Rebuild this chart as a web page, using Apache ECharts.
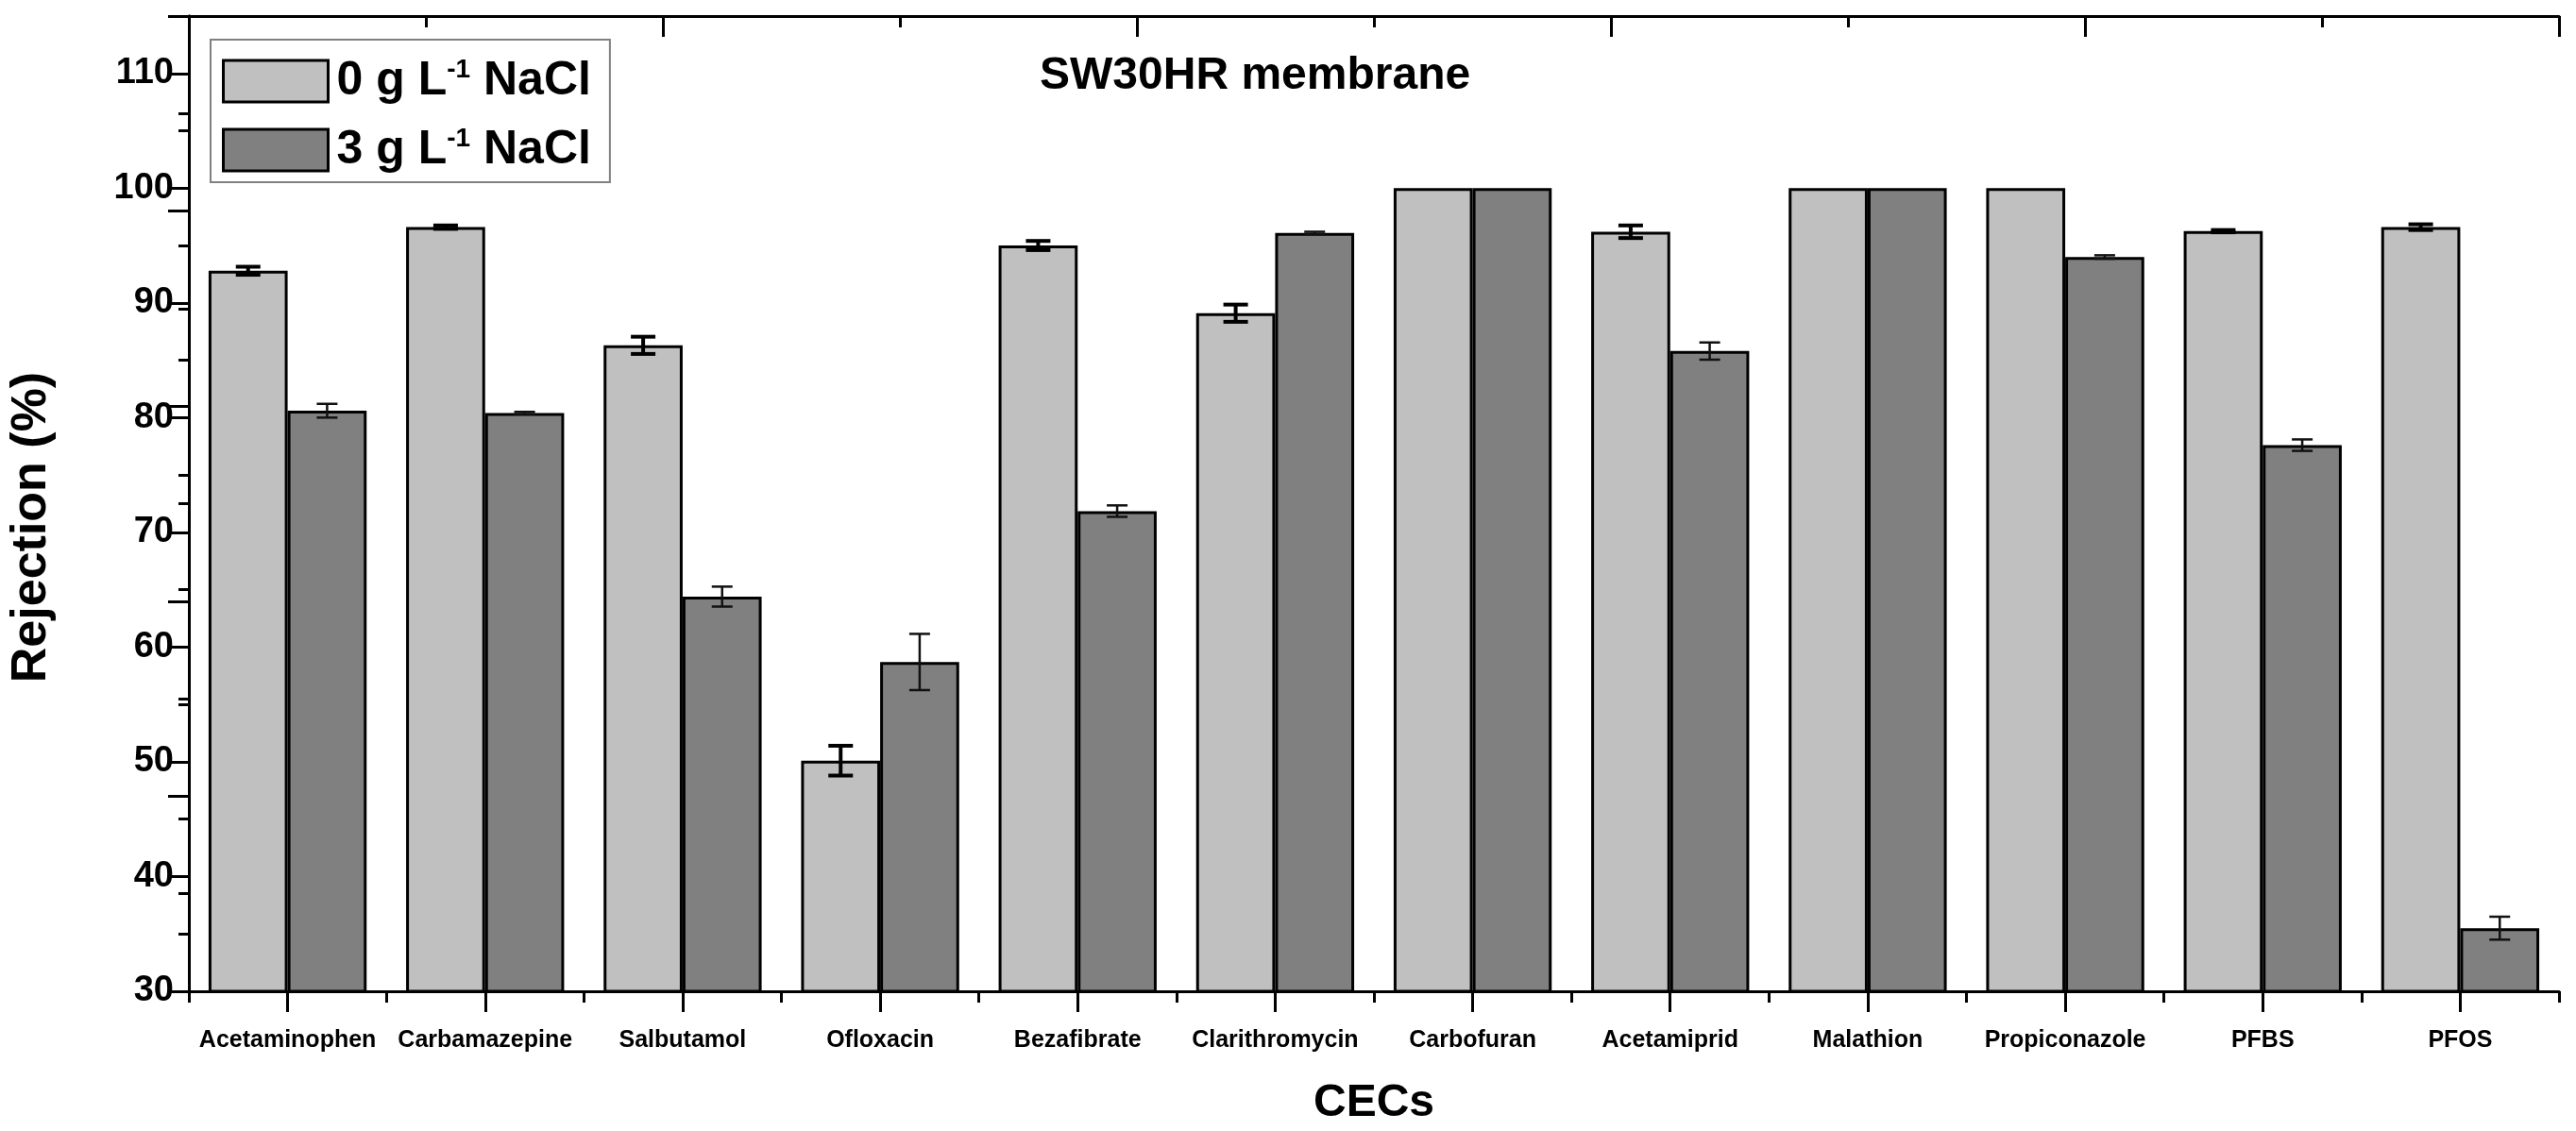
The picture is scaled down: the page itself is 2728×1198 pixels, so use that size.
<!DOCTYPE html>
<html>
<head>
<meta charset="utf-8">
<script src="https://cdn.jsdelivr.net/npm/echarts@6/dist/echarts.min.js"></script>
<style>
html,body{margin:0;padding:0;background:#fff;}
#c{width:2728px;height:1198px;}
</style>
</head>
<body>
<div id="c"></div>
<script>
const categories = ['Acetaminophen','Carbamazepine','Salbutamol','Ofloxacin','Bezafibrate','Clarithromycin','Carbofuran','Acetamiprid','Malathion','Propiconazole','PFBS','PFOS'];
const seriesNames = ['0 g L-1 NaCl','3 g L-1 NaCl'];
const rej0 = [92.8, 96.6, 86.3, 50.1, 95.0, 89.1, 100, 96.2, 100, 100, 96.25, 96.6];
const err0 = [0.35, 0.15, 0.75, 1.3, 0.4, 0.75, 0, 0.55, 0, 0, 0.1, 0.25];
const rej3 = [80.6, 80.4, 64.4, 58.7, 71.85, 96.1, 100, 85.8, 100, 94.0, 77.6, 35.5];
const err3 = [0.6, 0.1, 0.87, 2.45, 0.5, 0.1, 0, 0.75, 0, 0.15, 0.5, 1.0];
const yTicks = [30, 40, 50, 60, 70, 80, 90, 100, 110];

const FONT = '"Liberation Sans", Arial, sans-serif';
const chart = echarts.init(document.getElementById('c'));

function errSeries(vals, errs, side, lw, cap, color) {
  return {
    type: 'custom',
    xAxisIndex: 0, yAxisIndex: 0,
    z: 10,
    silent: true,
    data: vals.map((v, i) => [i, v, errs[i]]),
    renderItem: function (params, api) {
      const i = api.value(0), v = api.value(1), e = api.value(2);
      if (!e) return null;
      const band = api.size([1, 0])[0];
      const bw = band * 0.8 / 2;
      const base = api.coord([i, v]);
      const cx = base[0] + side * bw / 2;
      const yt = api.coord([i, v + e])[1];
      const yb = api.coord([i, v - e])[1];
      const st = { stroke: color, lineWidth: lw };
      return {
        type: 'group',
        children: [
          { type: 'line', shape: { x1: cx, y1: yt, x2: cx, y2: yb }, style: st },
          { type: 'line', shape: { x1: cx - cap / 2, y1: yt, x2: cx + cap / 2, y2: yt }, style: st },
          { type: 'line', shape: { x1: cx - cap / 2, y1: yb, x2: cx + cap / 2, y2: yb }, style: st }
        ]
      };
    }
  };
}

const legendRich = {
  a: { fontSize: 50, fontWeight: 'bold', fontFamily: FONT, color: '#000' },
  s: { fontSize: 28, fontWeight: 'bold', fontFamily: FONT, color: '#000', padding: [0, 0, 24, 0] }
};

chart.setOption({
  backgroundColor: '#fff',
  animation: false,
  title: {
    text: 'SW30HR membrane',
    left: 1096, top: 52,
    textStyle: { fontSize: 48, fontWeight: 'bold', fontFamily: FONT, color: '#000' }
  },
  legend: {
    orient: 'vertical',
    left: 223, top: 42,
    padding: [16, 20, 6, 12],
    itemGap: 17,
    itemWidth: 111, itemHeight: 44,
    borderColor: '#808080', borderWidth: 2,
    backgroundColor: '#fff',
    icon: 'rect',
    data: seriesNames,
    formatter: function (name) {
      const parts = name.split('L-1');
      return '{a|' + parts[0] + 'L}{s|-1}{a|' + parts[1] + '}';
    },
    textStyle: { rich: legendRich, lineHeight: 56, padding: [0, 0, 0, 4] },
    itemStyle: { borderColor: '#000', borderWidth: 3 }
  },
  grid: { left: 195, right: 18, top: 17, bottom: 142 },
  xAxis: [
    {
      type: 'category', data: categories, position: 'bottom',
      name: 'CECs', nameLocation: 'middle', nameGap: 95,
      nameTextStyle: { fontSize: 48, fontWeight: 'bold', fontFamily: FONT, color: '#000' },
      axisLine: { show: true, lineStyle: { color: '#000', width: 3 } },
      axisTick: { show: true, alignWithLabel: true, length: 22, lineStyle: { color: '#000', width: 3 } },
      axisLabel: { fontSize: 25, fontWeight: 'bold', fontFamily: FONT, color: '#000', margin: 40, interval: 0 },
      splitLine: { show: false }
    },
    {
      type: 'value', position: 'bottom', min: 0, max: 12, interval: 1,
      axisLine: { show: false },
      axisTick: { show: true, length: 12, lineStyle: { color: '#000', width: 3 } },
      axisLabel: { show: false },
      splitLine: { show: false }
    },
    {
      type: 'value', position: 'top', min: 0, max: 5, interval: 1,
      axisLine: { show: true, lineStyle: { color: '#000', width: 3 } },
      axisTick: { show: true, inside: true, length: 22, lineStyle: { color: '#000', width: 3 } },
      minorTick: { show: true, splitNumber: 2, length: 12, lineStyle: { color: '#000', width: 3 } },
      axisLabel: { show: false },
      splitLine: { show: false }
    }
  ],
  yAxis: [
    {
      type: 'value', min: 30, max: 115, interval: 10,
      name: 'Rejection (%)', nameLocation: 'middle', nameGap: 140,
      nameTextStyle: { fontSize: 52, fontWeight: 'bold', fontFamily: FONT, color: '#000', padding: [0, 50, 0, 0] },
      axisLine: { show: true, lineStyle: { color: '#000', width: 3 } },
      axisTick: { show: true, length: 21, lineStyle: { color: '#000', width: 3 } },
      minorTick: { show: true, splitNumber: 2, length: 11, lineStyle: { color: '#000', width: 3 } },
      axisLabel: {
        fontSize: 38, fontWeight: 'bold', fontFamily: FONT, color: '#000', margin: 16,
        formatter: function (v) { return yTicks.indexOf(v) >= 0 ? String(v) : ''; }
      },
      splitLine: { show: false }
    },
    {
      type: 'value', position: 'right', min: 0, max: 5, interval: 1,
      axisLine: { show: true, lineStyle: { color: '#000', width: 3 } },
      axisTick: { show: true, inside: true, length: 22, lineStyle: { color: '#000', width: 3 } },
      minorTick: { show: true, splitNumber: 2, length: 11, lineStyle: { color: '#000', width: 3 } },
      axisLabel: { show: false },
      splitLine: { show: false }
    }
  ],
  series: [
    {
      name: seriesNames[0], type: 'bar', xAxisIndex: 0, yAxisIndex: 0,
      data: rej0, barGap: '0%', barCategoryGap: '20%',
      itemStyle: { color: '#c0c0c0', borderColor: '#000', borderWidth: 3 }
    },
    {
      name: seriesNames[1], type: 'bar', xAxisIndex: 0, yAxisIndex: 0,
      data: rej3, barGap: '0%', barCategoryGap: '20%',
      itemStyle: { color: '#808080', borderColor: '#000', borderWidth: 3 }
    },
    errSeries(rej0, err0, -1, 4, 26, '#000'),
    errSeries(rej3, err3, 1, 2.5, 22, '#111')
  ]
});
</script>
</body>
</html>
